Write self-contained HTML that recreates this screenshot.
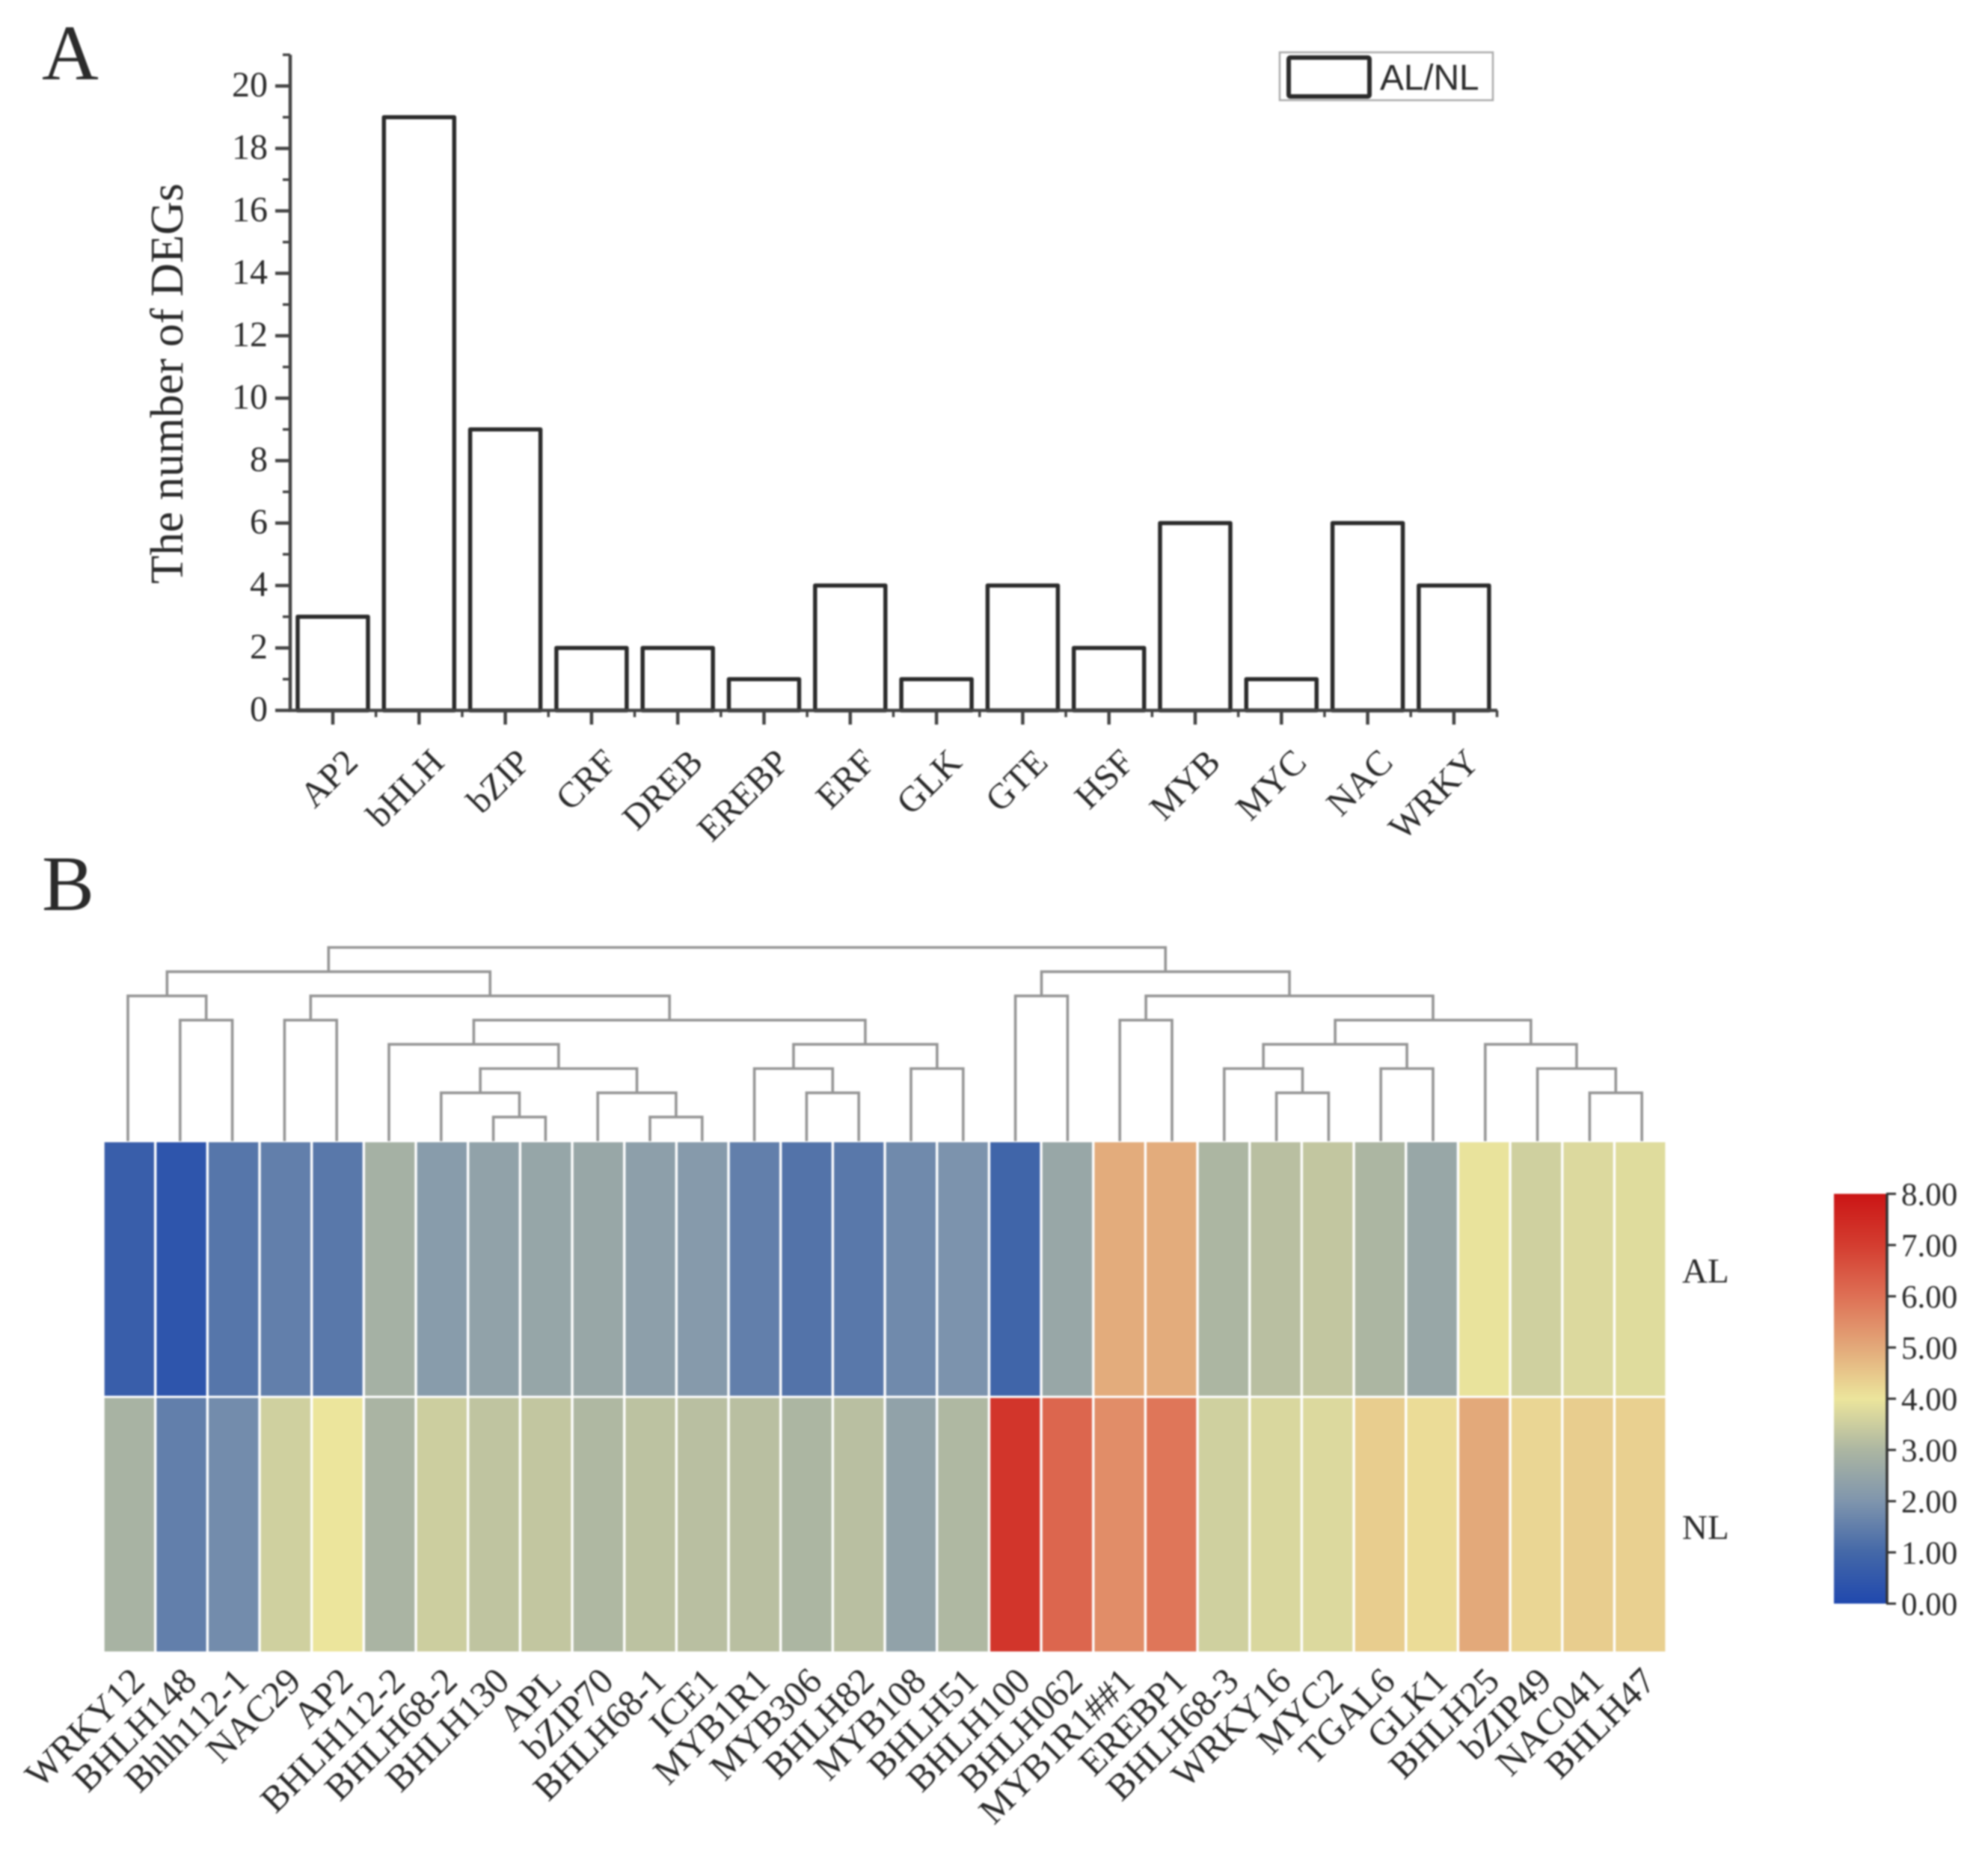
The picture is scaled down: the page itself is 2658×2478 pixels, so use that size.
<!DOCTYPE html>
<html lang="en">
<head>
<meta charset="utf-8">
<title>DEG transcription factor families and expression heatmap</title>
<style>
html,body{margin:0;padding:0;background:#fff;}
#figure{display:block;width:2658px;height:2478px;filter:blur(1.1px);}
text{font-family:"Liberation Serif",serif;fill:#2b2b2b;}
</style>
</head>
<body>
<svg id="figure" xmlns="http://www.w3.org/2000/svg" width="2658" height="2478" viewBox="0 0 2658 2478">
  <rect x="0" y="0" width="2658" height="2478" fill="#fff"/>
  <text x="56" y="106" font-size="105">A</text>
  <text x="56" y="1217" font-size="105">B</text>
  <text transform="translate(244,513) rotate(-90)" text-anchor="middle" font-size="62">The number of DEGs</text>
  <g id="bar-chart"></g>
  <g>
    <rect x="1711" y="70" width="285" height="64" fill="#fff" stroke="#aaa" stroke-width="2.5"/>
    <rect x="1723" y="77" width="108" height="52" fill="#fff" stroke="#2b2b2b" stroke-width="6" rx="2"/>
    <text x="1845" y="120" font-size="48" letter-spacing="-0.2" style="font-family:'Liberation Sans',sans-serif">AL/NL</text>
  </g>
  <g id="dendrogram"></g>
  <g id="heatmap"></g>
  <g id="colorbar"></g>
</svg>
<script>
// ---- Panel A data ----
const families = ["AP2","bHLH","bZIP","CRF","DREB","EREBP","ERF","GLK","GTE","HSF","MYB","MYC","NAC","WRKY"];
const degCounts = [3,19,9,2,2,1,4,1,4,2,6,1,6,4];
const yTickValues = [0,2,4,6,8,10,12,14,16,18,20];
const yMinorValues = [1,3,5,7,9,11,13,15,17,19,21];

// ---- Panel B data ----
const genes = ["WRKY12","BHLH148","Bhlh112-1","NAC29","AP2","BHLH112-2","BHLH68-2","BHLH130","APL","bZIP70","BHLH68-1","ICE1","MYB1R1","MYB306","BHLH82","MYB108","BHLH51","BHLH100","BHLH062","MYB1R1##1","EREBP1","BHLH68-3","WRKY16","MYC2","TGAL6","GLK1","BHLH25","bZIP49","NAC041","BHLH47"];
const rowNames = ["AL","NL"];
const alValues = [0.7,0.4,1.3,1.5,1.35,2.85,2.2,2.4,2.5,2.55,2.3,2.15,1.5,1.25,1.35,1.75,1.95,0.9,2.55,4.95,4.95,3.0,3.2,3.35,3.0,2.55,3.95,3.55,3.75,3.8];
const nlValues = [2.9,1.5,1.8,3.55,4.0,2.95,3.5,3.3,3.35,3.05,3.25,3.2,3.2,3.0,3.2,2.4,3.05,7.2,6.2,5.5,5.9,3.55,3.7,3.75,4.4,4.15,5.0,4.25,4.4,4.35];
const colorStops = ["#2048ae","#4468a8","#7f95ad","#acb6a2","#ece59c","#e3a97a","#de7055","#d43d30","#cb1515"];
const colorbarLabels = ["0.00","1.00","2.00","3.00","4.00","5.00","6.00","7.00","8.00"];
// Tree: [mergeLevel, left, right]; numbers are leaf indices, level 0 is the root.
const clusterTree = [0,
  [1,
    [2, 0, [3, 1, 2]],
    [2,
      [3, 3, 4],
      [3,
        [4, 5, [5, [6, 6, [7, 7, 8]], [6, 9, [7, 10, 11]]]],
        [4, [5, 12, [6, 13, 14]], [5, 15, 16]]
      ]
    ]
  ],
  [1,
    [2, 17, 18],
    [2,
      [3, 19, 20],
      [3,
        [4, [5, 21, [6, 22, 23]], [5, 24, 25]],
        [4, 26, [5, 27, [6, 28, 29]]]
      ]
    ]
  ]
];

const NS = "http://www.w3.org/2000/svg";
function mk(parent, tag, attrs, content) {
  const el = document.createElementNS(NS, tag);
  for (const k in attrs) el.setAttribute(k, attrs[k]);
  if (content !== undefined) el.textContent = content;
  parent.appendChild(el);
  return el;
}

// ---- Panel A axes ----
const barX = i => 445 + i * 115.3;
const barY = v => 950 - v * 41.75;
const barW = 94;
const chart = document.getElementById("bar-chart");
const axisColor = "#444";

families.forEach((name, i) => {
  const r = mk(chart, "rect", {x: barX(i) - barW / 2, y: barY(degCounts[i]), width: barW, height: barY(0) - barY(degCounts[i]), fill: "#fff", stroke: "#2b2b2b", "stroke-width": 5.5, "stroke-linejoin": "round"});
  
  
});

const yAxisLine = mk(chart, "line", {x1: 388, x2: 388, y1: barY(21), y2: barY(0) + 2, stroke: axisColor, "stroke-width": 4.5});


const xAxisLine = mk(chart, "line", {x1: 386, x2: barX(13) + 58, y1: barY(0), y2: barY(0), stroke: axisColor, "stroke-width": 4.5});



yTickValues.forEach(v => {
  const t = mk(chart, "line", {x1: 368, x2: 388, y1: barY(v), y2: barY(v), stroke: axisColor, "stroke-width": 4.5});
  
  
  const l = mk(chart, "text", {x: 358, y: barY(v) + 14, "text-anchor": "end", "font-size": 48}, String(v));
  
  
});
yMinorValues.forEach(v => {
  const t = mk(chart, "line", {x1: 378, x2: 388, y1: barY(v), y2: barY(v), stroke: axisColor, "stroke-width": 3.5});
  
  
});
families.forEach((name, i) => {
  const t = mk(chart, "line", {x1: barX(i), x2: barX(i), y1: barY(0), y2: barY(0) + 19, stroke: axisColor, "stroke-width": 4.5});
  
  
  const m = mk(chart, "line", {x1: barX(i) + 57.65, x2: barX(i) + 57.65, y1: barY(0), y2: barY(0) + 9, stroke: axisColor, "stroke-width": 3.5});
  
  
  const px = barX(i) + 36, py = 1022;
  const l = mk(chart, "text", {transform: "translate(" + px + "," + py + ") rotate(-45)", "text-anchor": "end", "font-size": 48}, name);
  
  
});

// ---- Panel B axes ----
const heatLeft = 138, heatTop = 1526, cellW = 69.67, cellH = 342;
const cellX = i => heatLeft + i * cellW;
const labelX = i => cellX(i) + cellW / 2;
const leafX = i => 171 + i * 69.8;
const rowY = r => heatTop + r * cellH;
function valueColor(v) {
  const c = Math.max(0, Math.min(8, v));
  const i = Math.min(7, Math.floor(c));
  const f = c - i;
  const a = colorStops[i], b = colorStops[i + 1];
  const ch = (s, p) => parseInt(s.substr(p, 2), 16);
  const mix = p => Math.round(ch(a, p) + (ch(b, p) - ch(a, p)) * f);
  return "rgb(" + mix(1) + "," + mix(3) + "," + mix(5) + ")";
}
const heat = document.getElementById("heatmap");
[alValues, nlValues].forEach((series, r) => {
  series.forEach((v, i) => {
    const c = mk(heat, "rect", {x: cellX(i) + 1.7, y: rowY(r) + 1.5, width: cellW - 3.4, height: cellH - 3, fill: valueColor(v)});
    
    
  });
  const rl = mk(heat, "text", {x: 2249, y: r === 0 ? 1715 : 2058, "font-size": 47}, rowNames[r]);
  
  
});
genes.forEach((g, i) => {
  const px = labelX(i) + 23;
  const l = mk(heat, "text", {transform: "translate(" + px + ",2251) rotate(-45)", "text-anchor": "end", "font-size": 49.5}, g);
  
  
});

// ---- Dendrogram ----
const dendro = document.getElementById("dendrogram");
const levelY = l => 1267 + l * 32.4;
const leafTop = 1526;
function drawNode(node) {
  if (typeof node === "number") return {x: leafX(node), y: leafTop};
  const a = drawNode(node[1]);
  const b = drawNode(node[2]);
  const y = levelY(node[0]);
  const p = mk(dendro, "path", {d: "M" + a.x + " " + a.y + "V" + y + "H" + b.x + "V" + b.y, fill: "none", stroke: "#959595", "stroke-width": 3.6});
  
  
  return {x: (a.x + b.x) / 2, y: y};
}
drawNode(clusterTree);

// ---- Colorbar ----
const cbar = document.getElementById("colorbar");
const cbY = v => 2144.5 - v * 68.5;
const defs = mk(cbar, "defs", {});
const grad = mk(defs, "linearGradient", {id: "cbGrad", x1: 0, y1: 1, x2: 0, y2: 0});
colorStops.forEach((c, i) => {
  mk(grad, "stop", {offset: (i / (colorStops.length - 1)), "stop-color": c});
});
const cbRect = mk(cbar, "rect", {x: 2452, y: cbY(8), width: 70, height: cbY(0) - cbY(8), fill: "url(#cbGrad)"});


const cbAxis = mk(cbar, "line", {x1: 2523, x2: 2523, y1: cbY(8), y2: cbY(0), stroke: "#333", "stroke-width": 3.5});


colorbarLabels.forEach(lbl => {
  const v = parseFloat(lbl);
  const t = mk(cbar, "line", {x1: 2522, x2: 2535, y1: cbY(v), y2: cbY(v), stroke: "#333", "stroke-width": 3});
  
  
  const l = mk(cbar, "text", {x: 2542, y: cbY(v) + 15, "font-size": 43}, lbl);
  
  
});
</script>
</body>
</html>
